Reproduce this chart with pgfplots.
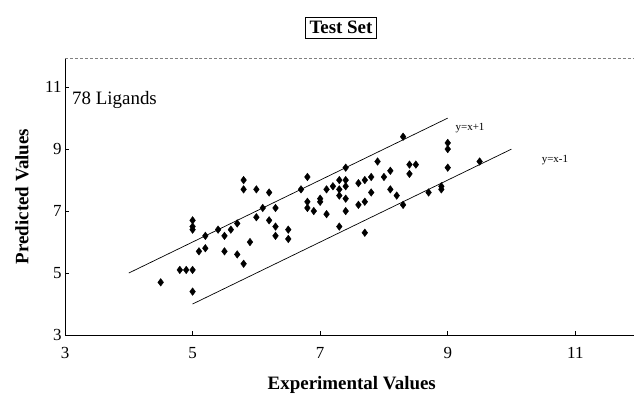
\documentclass[border=0pt]{standalone}
\usepackage{fontspec}
\setmainfont{Liberation Serif}
\usepackage{pgfplots}
\pgfplotsset{compat=1.18}
\begin{document}
\begin{tikzpicture}
\begin{axis}[
  name=ax,
  scale only axis,
  width=569bp, height=277bp,
  xmin=3, xmax=11.92, ymin=3, ymax=11.94,
  axis lines=left,
  axis line style={-, black, line width=0.8pt},
  xtick={3,5,7,9,11}, ytick={3,5,7,9,11},
  tick align=inside,
  major tick length=4bp,
  tick style={black, line width=0.5pt},
  /pgf/number format/assume math mode=true,
  ticklabel style={font=\fontsize{17}{19}\selectfont},
  xticklabel style={yshift=-9bp},
  xlabel={Experimental Values},
  ylabel={Predicted Values},
  label style={font=\bfseries\fontsize{19}{21}\selectfont},
  xlabel style={at={(axis description cs:0.504,0)}, anchor=center, yshift=-50bp},
  ylabel style={at={(axis description cs:-0.0756,0.5)}, anchor=center},
  title={Test Set},
  title style={at={(axis description cs:0.485,1)}, anchor=south, yshift=14bp, draw=black, fill=white, inner sep=4bp, font=\bfseries\fontsize{19}{21}\selectfont},
  clip=false,
]
\draw[gray, densely dashed, line width=0.6pt] (rel axis cs:0,1) -- (rel axis cs:1,1);
\addplot[black, line width=0.7pt] coordinates {(4,5) (9,10)};
\addplot[black, line width=0.7pt] coordinates {(5,4) (10,9)};
\addplot[only marks, mark=diamond*, mark size=3.8pt, black] table {
x y
4.5 4.7
4.8 5.1
4.9 5.1
5.0 5.1
5.0 4.4
5.0 6.7
5.0 6.5
5.0 6.4
5.1 5.7
5.2 5.8
5.2 6.2
5.4 6.4
5.5 6.2
5.5 5.7
5.6 6.4
5.7 6.6
5.7 5.6
5.8 5.3
5.8 8.0
5.8 7.7
5.9 6.0
6.0 7.7
6.0 6.8
6.1 7.1
6.2 7.6
6.2 6.7
6.3 7.1
6.3 6.5
6.3 6.2
6.5 6.4
6.5 6.1
6.7 7.7
6.8 8.1
6.8 7.3
6.8 7.1
6.9 7.0
7.0 7.4
7.0 7.3
7.1 7.7
7.1 6.9
7.2 7.8
7.3 8.0
7.3 7.7
7.3 7.5
7.3 6.5
7.4 8.4
7.4 8.0
7.4 7.8
7.4 7.4
7.4 7.0
7.6 7.9
7.6 7.2
7.7 8.0
7.7 7.3
7.7 6.3
7.8 8.1
7.8 7.6
7.9 8.6
8.0 8.1
8.1 8.3
8.1 7.7
8.2 7.5
8.3 9.4
8.3 7.2
8.4 8.5
8.4 8.2
8.5 8.5
8.7 7.6
8.9 7.8
8.9 7.7
9.0 9.2
9.0 9.0
9.0 8.4
9.5 8.6
};
\node[anchor=west, font=\fontsize{19}{21}\selectfont, inner sep=0pt] at (axis cs:3.11,10.58) {78 Ligands};
\node[font=\fontsize{11}{13}\selectfont] at (axis cs:9.35,9.68) {y=x+1};
\node[font=\fontsize{11}{13}\selectfont] at (axis cs:10.68,8.65) {y=x-1};
\end{axis}
\pgfresetboundingbox
\path ([shift={(-65bp,-63bp)}]ax.south west) rectangle ([shift={(0bp,58bp)}]ax.north east);
\end{tikzpicture}
\end{document}
